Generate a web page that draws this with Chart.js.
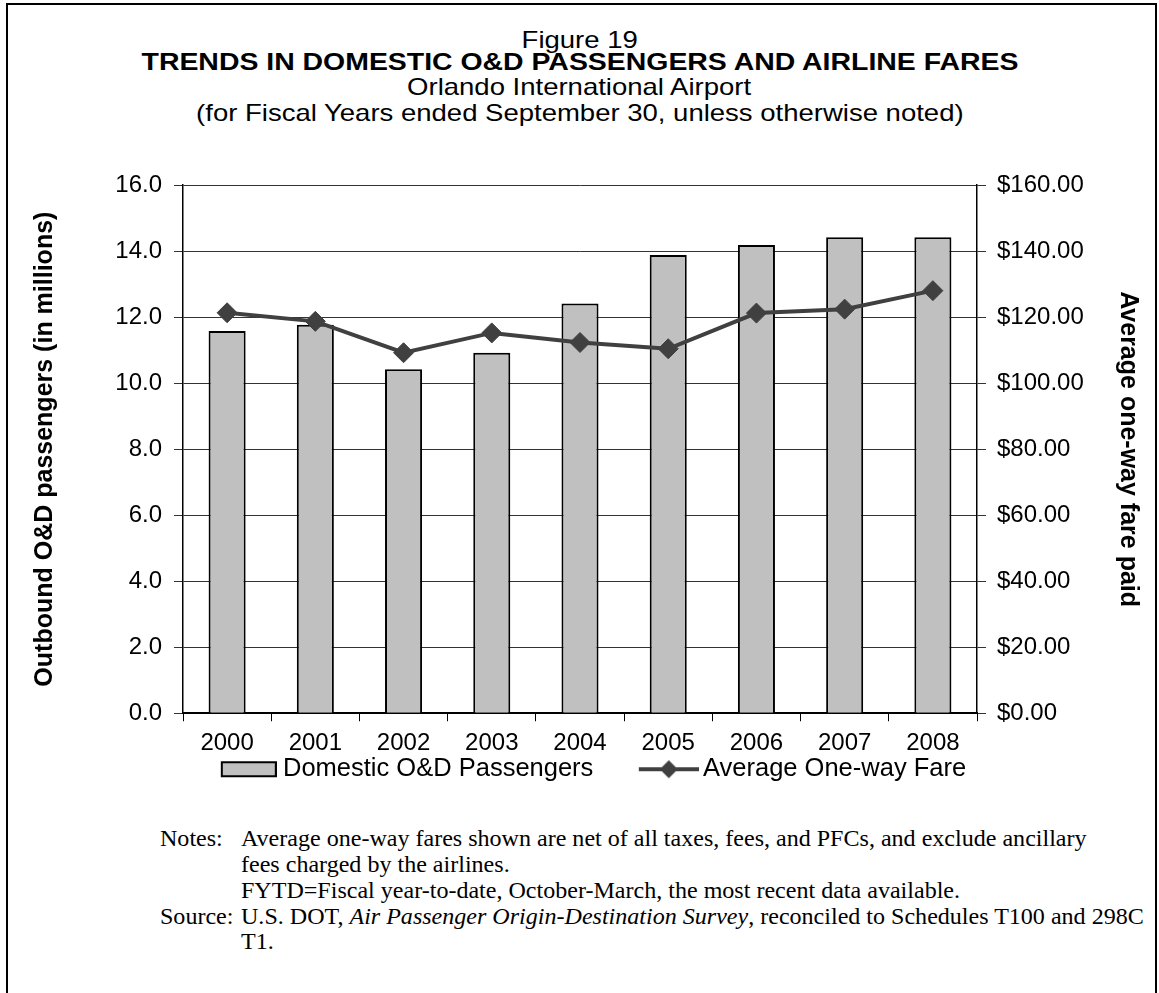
<!DOCTYPE html>
<html>
<head>
<meta charset="utf-8">
<title>Figure 19</title>
<script src="https://cdn.jsdelivr.net/npm/chart.js@4.4.1/dist/chart.umd.min.js"></script>
<style>
  body { margin: 0; background: #fff; }
  #page { position: relative; width: 1159px; height: 993px; overflow: hidden; font-family: "Liberation Sans", Arial, sans-serif; color: #000; }
  #frame { position: absolute; left: 6px; top: 3px; width: 1147px; height: 1010px; border: 2px solid #000; border-bottom: none; }
  .t { position: absolute; left: 0; width: 1159px; text-align: center; font-size: 24px; line-height: 26px; white-space: nowrap; }
  .t span { display: inline-block; transform: scaleX(1.146); transform-origin: 50% 50%; }
  .t.b span { transform: scaleX(1.16); }
  #chartBox { position: absolute; left: 0; top: 130px; width: 1159px; height: 662px; }
  .n { position: absolute; white-space: nowrap; line-height: 26px; font-family: "Liberation Serif", "Times New Roman", serif; font-size: 21px; z-index: 2; }
</style>
</head>
<body>
<div id="page">
  <div id="frame"></div>
  <div class="t" style="top:27px"><span>Figure 19</span></div>
  <div class="t b" style="top:49px;font-weight:bold;font-size:24.5px"><span>TRENDS IN DOMESTIC O&amp;D PASSENGERS AND AIRLINE FARES</span></div>
  <div class="t" style="top:74px"><span>Orlando International Airport</span></div>
  <div class="t" style="top:100px"><span>(for Fiscal Years ended September 30, unless otherwise noted)</span></div>

  <div id="chartBox"><canvas id="myChart"></canvas></div>

  <div class="n" style="left:160px;top:825px">Notes:</div>
  <div class="n" id="line1" style="left:241px;top:825px">Average one-way fares shown are net of all taxes, fees, and PFCs, and exclude ancillary</div>
  <div class="n" style="left:241px;top:851px">fees charged by the airlines.</div>
  <div class="n" style="left:241px;top:877px">FYTD=Fiscal year-to-date, October-March, the most recent data available.</div>
  <div class="n" style="left:160px;top:903px">Source:</div>
  <div class="n" style="left:241px;top:903px">U.S. DOT, <i>Air Passenger Origin-Destination Survey</i>, reconciled to Schedules T100 and 298C</div>
  <div class="n" style="left:241px;top:928px">T1.</div>
</div>

<script>
// data
var years = ['2000', '2001', '2002', '2003', '2004', '2005', '2006', '2007', '2008'];
var passengers = [11.58, 11.77, 10.42, 10.92, 12.41, 13.88, 14.18, 14.42, 14.42];   // millions
var fares = [121.3, 118.7, 109.2, 115.2, 112.3, 110.4, 121.2, 122.4, 128.0];        // dollars

var barLabel = 'Domestic O&D Passengers';
var lineLabel = 'Average One-way Fare';
var leftTitle = 'Outbound O&D passengers (in millions)';
var rightTitle = 'Average one-way fare paid';

var barFill = '#c0c0c0';
var lineColor = '#404040';
var gridColor = '#333333';
var fontFam = '"Liberation Sans", Arial, sans-serif';
var legendSize = 25.5;
var legendPad = 40;

// fit the notes font so the first line is as long as in the figure
(function(){
    var l1 = document.getElementById('line1');
    var w = l1.getBoundingClientRect().width;
    var size = 21 * 846 / w;
    var ns = document.querySelectorAll('.n');
    for (var i = 0; i < ns.length; i++) ns[i].style.fontSize = size + 'px';
})();

// legend spacing: measure the two texts
var mc = document.createElement('canvas').getContext('2d');
mc.font = legendSize + 'px ' + fontFam;
var tw1 = mc.measureText(barLabel).width;
var tw2 = mc.measureText(lineLabel).width;
var psw = 703 - legendSize / 2 - (283 + tw1 + legendPad);      // point style width
var padL = Math.max(0, -593 + legendPad + tw1 + tw2);           // keeps the row where it is in the figure

// legend icons (content pushed to the right edge of the image)
function barIcon(){
    var c = document.createElement('canvas');
    c.width = Math.round(psw + 13.5); c.height = 18;
    var g = c.getContext('2d');
    var x0 = c.width - 55;
    g.fillStyle = barFill;
    g.fillRect(x0, 2, 54, 14);
    g.strokeStyle = '#000';
    g.lineWidth = 2;
    g.strokeRect(x0, 2, 54, 14);
    return c;
}
function lineIcon(){
    var c = document.createElement('canvas');
    c.width = Math.round(psw + 17.5); c.height = 24;
    var g = c.getContext('2d');
    var x0 = c.width - 60;
    g.strokeStyle = lineColor;
    g.lineWidth = 4;
    g.beginPath(); g.moveTo(x0, 12); g.lineTo(x0 + 60, 12); g.stroke();
    g.fillStyle = lineColor;
    g.beginPath(); g.moveTo(x0 + 30, 3); g.lineTo(x0 + 39, 12); g.lineTo(x0 + 30, 21); g.lineTo(x0 + 21, 12); g.closePath(); g.fill();
    return c;
}

var ctx = document.getElementById('myChart').getContext('2d');

var myChart = new Chart(ctx, {
    type: 'bar',
    data: {
        labels: years,
        datasets: [
            {
                type: 'line',
                label: lineLabel,
                data: fares,
                yAxisID: 'y1',
                borderColor: lineColor,
                backgroundColor: lineColor,
                borderWidth: 4,
                pointStyle: 'rectRot',
                pointRadius: 10,
                pointBackgroundColor: lineColor,
                pointBorderColor: lineColor,
                pointBorderWidth: 1,
                tension: 0,
                order: 0
            },
            {
                type: 'bar',
                label: barLabel,
                data: passengers,
                yAxisID: 'y',
                backgroundColor: barFill,
                borderColor: '#000',
                borderWidth: 2,
                categoryPercentage: 1,
                barPercentage: 0.42,
                order: 1
            }
        ]
    },
    options: {
        responsive: true,
        maintainAspectRatio: false,
        animation: false,
        layout: { padding: { left: padL, right: 0, top: 55, bottom: 0 } },
        plugins: {
            tooltip: { enabled: false },
            legend: {
                position: 'bottom',
                labels: {
                    usePointStyle: true,
                    pointStyleWidth: psw,
                    padding: legendPad,
                    color: '#000',
                    font: { family: fontFam, size: legendSize },
                    generateLabels: function(chart){
                        return [
                            { text: barLabel, pointStyle: barIcon(), fillStyle: barFill, strokeStyle: '#000', lineWidth: 0, datasetIndex: 1, hidden: false, fontColor: '#000' },
                            { text: lineLabel, pointStyle: lineIcon(), fillStyle: lineColor, strokeStyle: lineColor, lineWidth: 0, datasetIndex: 0, hidden: false, fontColor: '#000' }
                        ];
                    }
                }
            }
        },
        scales: {
            x: {
                offset: true,
                grid: { offset: true, drawOnChartArea: false, drawTicks: true, tickLength: 8, color: '#000' },
                border: { color: '#000', width: 2 },
                // mirrored labels are not clipped to the (thin) axis box; negative padding puts them below
                ticks: { color: '#000', mirror: true, padding: -44.4, font: { family: fontFam, size: 24 } },
                afterFit: function(scale){ scale.height = 3.25; }
            },
            y: {
                position: 'left',
                min: 0, max: 16,
                ticks: {
                    stepSize: 2, color: '#000', padding: 12,
                    font: { family: fontFam, size: 24 },
                    callback: function(v){ return v.toFixed(1); }
                },
                grid: { color: gridColor, lineWidth: 1, tickLength: 9 },
                border: { color: '#000', width: 1.5 },
                title: {
                    display: true, text: leftTitle, color: '#000',
                    font: { family: fontFam, size: 25, weight: 'bold' },
                    padding: { top: Math.max(0, 45 - padL - 15), bottom: 0 }
                },
                afterFit: function(scale){ scale.width = 183 - padL; }
            },
            y1: {
                position: 'right',
                min: 0, max: 160,
                ticks: {
                    stepSize: 20, color: '#000', padding: 11,
                    font: { family: fontFam, size: 24 },
                    callback: function(v){ return '$' + v.toFixed(2); }
                },
                grid: { drawOnChartArea: false, color: gridColor, tickLength: 9 },
                border: { color: '#000', width: 1.5 },
                title: {
                    display: true, text: rightTitle, color: '#000',
                    font: { family: fontFam, size: 25, weight: 'bold' },
                    padding: { top: 16, bottom: 0 }
                },
                afterFit: function(scale){ scale.width = 182; }
            }
        }
    }
});
</script>
</body>
</html>
